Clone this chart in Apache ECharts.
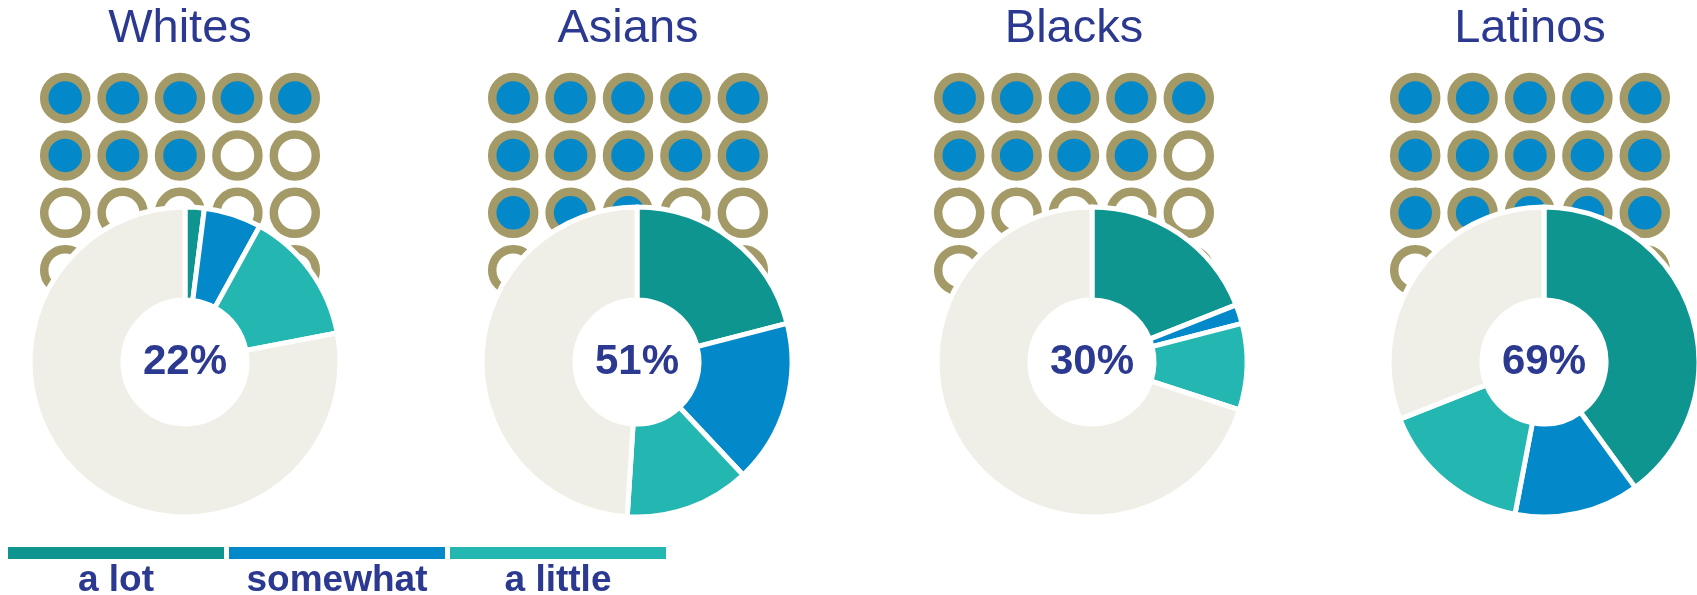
<!DOCTYPE html>
<html>
<head>
<meta charset="utf-8">
<script src="https://cdn.jsdelivr.net/npm/echarts@6/dist/echarts.min.js"></script>
<style>
html, body { margin: 0; padding: 0; background: #ffffff; }
#chart { width: 1697px; height: 595px; }
</style>
</head>
<body>
<div id="chart"></div>
<script>
// ---- data ----
const categories = ['Whites', 'Asians', 'Blacks', 'Latinos'];
const aLot = [2, 21, 19, 40];
const somewhat = [6, 17, 2, 13];
const aLittle = [14, 13, 9, 16];
const totals = [22, 51, 30, 69];
const filledDots = [8, 13, 9, 15];
const dotCount = 20;
const legendLabels = ['a lot', 'somewhat', 'a little'];

// ---- styles / layout ----
const FONT = '"Liberation Sans", Arial, Helvetica, sans-serif';
const NAVY = '#2b3990';
const C_LOT = '#0e9590';
const C_SOME = '#0389c9';
const C_LITTLE = '#24b6b1';
const C_REST = '#f0efe7';
const C_RING = '#a49a68';
const pieX = [185, 637, 1092, 1544];
const pieY = 362;
const dotGridX = [180, 628, 1074, 1530];
const dotStep = 57.4;
const dotTop = 98;
const sliceColors = [C_LOT, C_SOME, C_LITTLE, C_REST];

const chart = echarts.init(document.getElementById('chart'), null, { renderer: 'canvas' });

const titles = categories.map((c, i) => ({
  text: c,
  left: dotGridX[i],
  top: 6,
  padding: 0,
  textAlign: 'center',
  textStyle: { fontSize: 47, fontWeight: 'normal', color: NAVY, fontFamily: FONT }
}));

const grids = [], xAxes = [], yAxes = [], series = [];
categories.forEach((c, i) => {
  grids.push({
    left: dotGridX[i] - 2.5 * dotStep,
    top: dotTop - 0.5 * dotStep,
    width: 5 * dotStep,
    height: 4 * dotStep,
    containLabel: false
  });
  xAxes.push({ type: 'value', gridIndex: i, min: -0.5, max: 4.5, show: false });
  yAxes.push({ type: 'value', gridIndex: i, min: -0.5, max: 3.5, inverse: true, show: false });

  const dots = [];
  for (let k = 0; k < dotCount; k++) {
    dots.push({
      value: [k % 5, Math.floor(k / 5)],
      itemStyle: { color: k < filledDots[i] ? C_SOME : '#ffffff' }
    });
  }
  series.push({
    type: 'scatter',
    xAxisIndex: i,
    yAxisIndex: i,
    symbol: 'circle',
    symbolSize: 42,
    silent: true,
    z: 1,
    itemStyle: { borderColor: C_RING, borderWidth: 8.5, opacity: 1 },
    data: dots
  });

  const rest = 100 - aLot[i] - somewhat[i] - aLittle[i];
  const vals = [aLot[i], somewhat[i], aLittle[i], rest];
  const names = [legendLabels[0], legendLabels[1], legendLabels[2], 'rest'];
  series.push({
    type: 'pie',
    name: c,
    center: [pieX[i], pieY],
    radius: [62, 155],
    startAngle: 90,
    clockwise: true,
    silent: true,
    z: 5,
    avoidLabelOverlap: false,
    itemStyle: { borderColor: '#ffffff', borderWidth: 5 },
    label: { show: false },
    labelLine: { show: false },
    emphasis: { disabled: true },
    data: vals.map((v, j) => ({
      value: v,
      name: names[j],
      itemStyle: { color: sliceColors[j] },
      label: j === 0 ? {
        show: true,
        position: 'center',
        formatter: totals[i] + '%',
        fontSize: 42,
        fontWeight: 'bold',
        color: NAVY,
        fontFamily: FONT
      } : { show: false }
    }))
  });
});

// legend swatches (bars with labels beneath)
const legX = [8, 229, 450];
const legW = 216;
const graphics = [];
legendLabels.forEach((l, j) => {
  graphics.push({
    type: 'rect',
    shape: { x: legX[j], y: 547, width: legW, height: 12 },
    style: { fill: sliceColors[j] },
    silent: true
  });
  graphics.push({
    type: 'text',
    x: legX[j] + legW / 2,
    y: 581,
    style: {
      text: l,
      fill: NAVY,
      font: 'bold 37px ' + FONT,
      textAlign: 'center',
      textVerticalAlign: 'middle'
    },
    silent: true
  });
});

chart.setOption({
  animation: false,
  backgroundColor: '#ffffff',
  title: titles,
  grid: grids,
  xAxis: xAxes,
  yAxis: yAxes,
  series: series,
  graphic: graphics
});
</script>
</body>
</html>
